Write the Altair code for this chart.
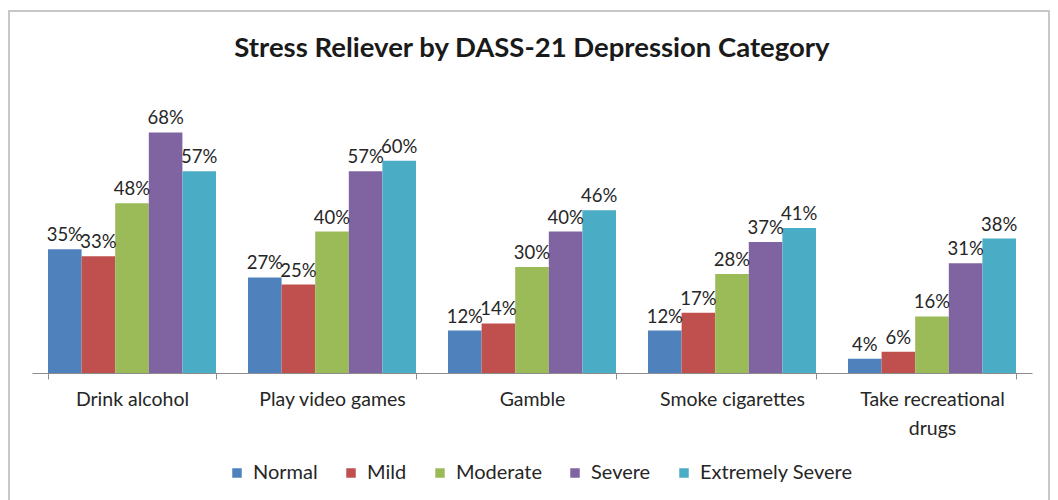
import altair as alt
import pandas as pd

categories = ["Drink alcohol", "Play video games", "Gamble", "Smoke cigarettes", "Take recreational drugs"]
series = ["Normal", "Mild", "Moderate", "Severe", "Extremely Severe"]
colors = ["#4F81BD", "#C0504D", "#9BBB59", "#8064A2", "#4BACC6"]
normal = [35, 27, 12, 12, 4]
mild = [33, 25, 14, 17, 6]
moderate = [48, 40, 30, 28, 16]
severe = [68, 57, 40, 37, 31]
extreme = [57, 60, 46, 41, 38]

values = [normal, mild, moderate, severe, extreme]
rows = []
for s, vals in zip(series, values):
    for c, v in zip(categories, vals):
        rows.append({"Activity": c, "Category": s, "Value": v / 100.0})
df = pd.DataFrame(rows)

FONT = "Lato"

x = alt.X(
    "Activity:N",
    sort=categories,
    title=None,
    scale=alt.Scale(paddingInner=0.16, paddingOuter=0.08),
    axis=alt.Axis(
        labelAngle=0,
        labelFontSize=19.5,
        labelColor="#262626",
        labelFont=FONT,
        labelPadding=11,
        tickBand="extent",
        tickSize=6,
        tickColor="#8c8c8c",
        domainColor="#8c8c8c",
        grid=False,
        labelExpr="datum.label == 'Take recreational drugs' ? ['Take recreational', 'drugs'] : datum.label",
        labelLineHeight=29,
    ),
)
y = alt.Y(
    "Value:Q",
    scale=alt.Scale(domain=[0, 0.8]),
    axis=None,
)
xo = alt.XOffset("Category:N", sort=series)

bars = alt.Chart(df).mark_bar().encode(
    x=x,
    y=y,
    xOffset=xo,
    color=alt.Color(
        "Category:N",
        sort=series,
        scale=alt.Scale(domain=series, range=colors),
        legend=alt.Legend(
            title=None,
            orient="none",
            direction="horizontal",
            legendX=195,
            legendY=373,
            symbolType="square",
            symbolSize=90,
            symbolStrokeWidth=0,
            labelFontSize=20,
            labelFont=FONT,
            labelColor="#262626",
            columnPadding=23,
            labelOffset=6,
        ),
    ),
)

labels = alt.Chart(df).mark_text(
    baseline="bottom", dy=-4, fontSize=18.5, font=FONT, color="#262626"
).encode(
    x=alt.X("Activity:N", sort=categories),
    y="Value:Q",
    xOffset=xo,
    text=alt.Text("Value:Q", format=".0%"),
)

border = alt.Chart(df).mark_rect(fillOpacity=0, stroke="#c8c8c8", strokeWidth=1.5).encode(
    x=alt.value(-23),
    x2=alt.value(1017),
    y=alt.value(-79),
    y2=alt.value(420),
)

chart = (
    alt.layer(border, bars, labels)
    .properties(
        width=1000,
        height=283,
        autosize=alt.AutoSizeParams(type="none"),
        padding={"left": 24, "top": 82, "right": 18, "bottom": 127},
        view=alt.ViewBackground(stroke="transparent", strokeWidth=0, strokeOpacity=0),
        title=alt.Title(
            "Stress Reliever by DASS-21 Depression Category",
            fontSize=27.5,
            font=FONT,
            fontWeight="bold",
            color="#1a1a1a",
            anchor="middle",
            baseline="alphabetic",
            offset=-74,
        ),
    )
    .configure_view(stroke="transparent", strokeWidth=0, strokeOpacity=0)
    .configure(background="white")
)

chart.save("out.html", embed_options={"renderer": "svg", "actions": False})
